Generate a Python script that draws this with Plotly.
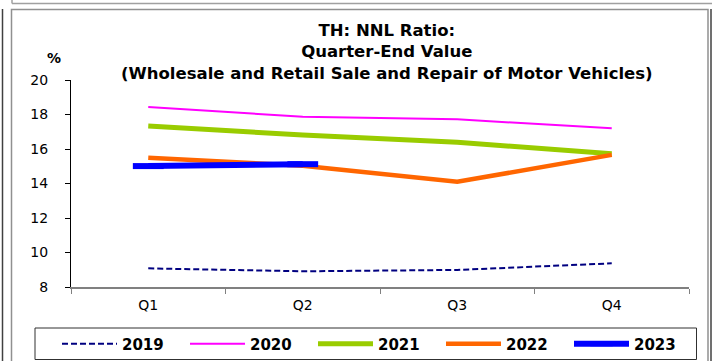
import plotly.graph_objects as go

# Quarter labels and quarter-end NNL ratios (%) by year
quarters = ["Q1", "Q2", "Q3", "Q4"]
y2019 = [9.08, 8.91, 8.99, 9.37]
y2020 = [18.43, 17.87, 17.72, 17.20]
y2021 = [17.33, 16.81, 16.39, 15.72]
y2022 = [15.50, 15.03, 14.10, 15.66]
y2023 = [15.01, 15.12]

W, H = 712, 361
FONT = "DejaVu Sans, Verdana, sans-serif"


def px(x):
    return x / W


def py(y):
    return 1 - y / H


fig = go.Figure()
fig.add_trace(go.Scatter(x=quarters, y=y2019, name="2019", mode="lines",
                         line=dict(color="#000080", width=2, dash="6px,3px")))
fig.add_trace(go.Scatter(x=quarters, y=y2020, name="2020", mode="lines",
                         line=dict(color="#FF00FF", width=2)))
fig.add_trace(go.Scatter(x=quarters, y=y2021, name="2021", mode="lines",
                         line=dict(color="#99CC00", width=5)))
fig.add_trace(go.Scatter(x=quarters, y=y2022, name="2022", mode="lines",
                         line=dict(color="#FF6600", width=4.5)))
fig.add_trace(go.Scatter(x=quarters[:len(y2023)], y=y2023, name="2023", mode="lines+markers",
                         line=dict(color="#0000FF", width=6),
                         marker=dict(symbol="line-ew", size=22,
                                     line=dict(color="#0000FF", width=6))))

# Outer frame decoration
shapes = [
    dict(type="line", xref="paper", yref="paper", x0=px(2.5), x1=px(2.5), y0=py(9), y1=py(361),
         line=dict(color="#404040", width=1.5)),
    dict(type="line", xref="paper", yref="paper", x0=px(12), x1=px(712), y0=py(3.5), y1=py(3.5),
         line=dict(color="#a0a0a0", width=1.5)),
    dict(type="line", xref="paper", yref="paper", x0=px(12), x1=px(12), y0=py(0), y1=py(3.5),
         line=dict(color="#a0a0a0", width=1.5)),
    dict(type="rect", xref="paper", yref="paper", x0=px(11.5), x1=px(708), y0=py(9.5), y1=py(363),
         line=dict(color="#909090", width=1.5)),
    dict(type="line", xref="paper", yref="paper", x0=px(711), x1=px(711), y0=py(9), y1=py(361),
         line=dict(color="#404040", width=1.5)),
    # legend box
    dict(type="rect", xref="paper", yref="paper", x0=px(35), x1=px(696.5), y0=py(328), y1=py(359.5),
         line=dict(color="#303030", width=1)),
]

fig.update_layout(
    width=W, height=H,
    margin=dict(l=0, r=0, t=0, b=0, autoexpand=False),
    paper_bgcolor="white", plot_bgcolor="white",
    font=dict(family=FONT, color="black", size=14),
    shapes=shapes,
    showlegend=True,
    legend=dict(orientation="h", x=px(57), y=py(344), xanchor="left", yanchor="middle",
                font=dict(family=FONT, size=15, color="black", weight="bold"),
                itemwidth=55, entrywidth=58, entrywidthmode="pixels",
                bgcolor="rgba(0,0,0,0)", borderwidth=0, tracegroupgap=0),
    annotations=[
        dict(text="<b>TH: NNL Ratio:<br>Quarter-End Value<br>(Wholesale and Retail Sale and Repair of Motor Vehicles)</b>",
             xref="paper", yref="paper", x=px(387), y=py(52), xanchor="center", yanchor="middle",
             showarrow=False, font=dict(family=FONT, size=16.5, color="black")),
        dict(text="<b>%</b>", xref="paper", yref="paper", x=px(54), y=py(58), xanchor="center",
             yanchor="middle", showarrow=False, font=dict(family=FONT, size=14, color="black")),
    ],
    xaxis=dict(domain=[px(71), px(689)], range=[-0.5, 3.5], showline=True, linecolor="#808080",
               linewidth=1.5, ticks="outside", tickson="boundaries", ticklen=5, tickcolor="#808080",
               tickwidth=1, showgrid=False, zeroline=False, ticklabelstandoff=4,
               tickfont=dict(family=FONT, size=14, color="black")),
    yaxis=dict(domain=[py(287), py(80)], range=[8, 20], dtick=2, showline=True, linecolor="black",
               linewidth=1, ticks="outside", ticklen=5, tickcolor="black", showgrid=False,
               zeroline=False, ticklabelstandoff=14,
               tickfont=dict(family=FONT, size=14, color="black")),
)

fig.write_html("out.html")
